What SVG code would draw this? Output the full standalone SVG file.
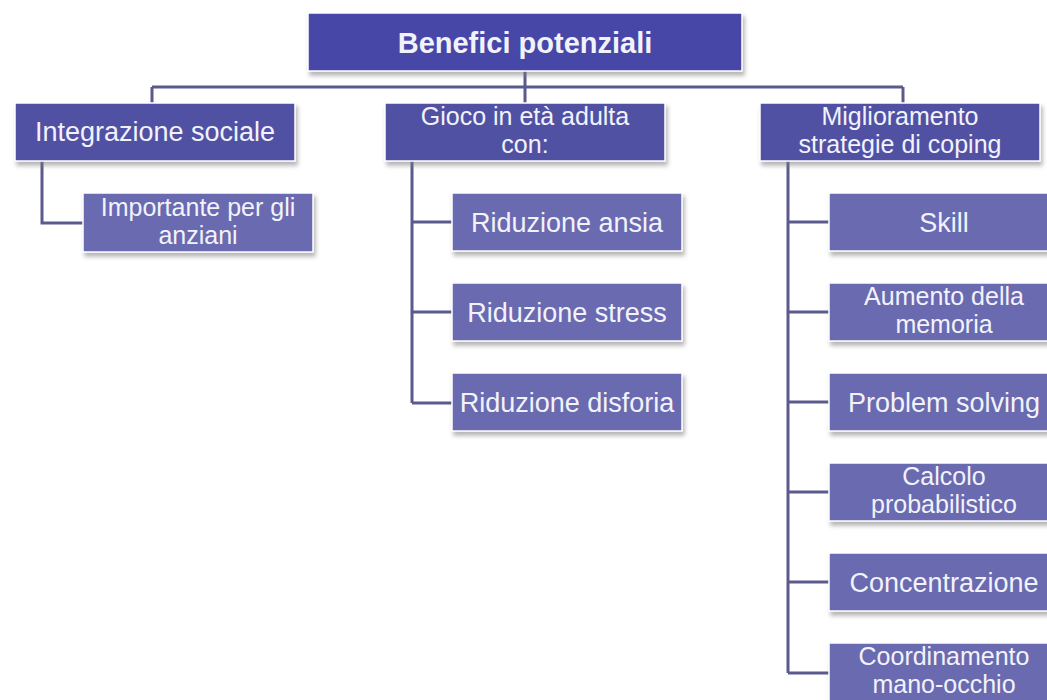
<svg xmlns="http://www.w3.org/2000/svg" width="1047" height="700" viewBox="0 0 1047 700">
<style>
.box{stroke:#ffffff;stroke-width:1.5;filter:url(#sh)}
.b0{fill:#4646a7}
.b1{fill:#5151a4}
.b2{fill:#6a6ab0}
.t{font-family:"Liberation Sans",Arial,sans-serif;font-size:27px;fill:#f2f2fb;text-anchor:middle}
.t2{font-family:"Liberation Sans",Arial,sans-serif;font-size:25px;fill:#f2f2fb;text-anchor:middle}
.tb{font-family:"Liberation Sans",Arial,sans-serif;font-size:29px;font-weight:bold;fill:#f2f2fb;text-anchor:middle}
.c{fill:none;stroke:#5a5a8e;stroke-width:3}
</style>
<defs>
<filter id="sh" x="-10%" y="-20%" width="125%" height="160%">
<feDropShadow dx="2" dy="4" stdDeviation="2" flood-color="#7a7a7a" flood-opacity="0.55"/>
</filter>
</defs>
<rect width="1047" height="700" fill="#ffffff"/>
<g id="connectors">
<path class="c" d="M525,71 V87 M152,87 H903 M152,87 V103 M525,87 V103 M903,87 V103"/>
<path class="c" d="M42,161 V223 H83"/>
<path class="c" d="M412,161 V403 M412,222 H452 M412,312 H452 M412,403 H452"/>
<path class="c" d="M788,161 V673 M788,222 H829 M788,312 H829 M788,402 H829 M788,492 H829 M788,582 H829 M788,673 H829"/>
</g>
<g id="n0"><rect class="box b0" x="308" y="13" width="434" height="58"/><text class="tb" x="525" y="53">Benefici potenziali</text></g>
<g id="n1"><rect class="box b1" x="15" y="103" width="280" height="58"/><text class="t" x="155" y="141">Integrazione sociale</text></g>
<g id="n2"><rect class="box b1" x="385" y="103" width="280" height="58"/><text class="t2" x="525" y="125">Gioco in età adulta</text><text class="t2" x="525" y="153">con:</text></g>
<g id="n3"><rect class="box b1" x="760" y="103" width="280" height="58"/><text class="t2" x="900" y="125">Miglioramento</text><text class="t2" x="900" y="153">strategie di coping</text></g>
<g id="n4"><rect class="box b2" x="83" y="193" width="230" height="59"/><text class="t2" x="198" y="216">Importante per gli</text><text class="t2" x="198" y="244">anziani</text></g>
<g id="n5"><rect class="box b2" x="452" y="193" width="230" height="58"/><text class="t" x="567" y="232">Riduzione ansia</text></g>
<g id="n6"><rect class="box b2" x="452" y="283" width="230" height="58"/><text class="t" x="567" y="322">Riduzione stress</text></g>
<g id="n7"><rect class="box b2" x="452" y="373" width="230" height="58"/><text class="t" x="567" y="412">Riduzione disforia</text></g>
<g id="n8"><rect class="box b2" x="829" y="193" width="230" height="58"/><text class="t" x="944" y="232">Skill</text></g>
<g id="n9"><rect class="box b2" x="829" y="283" width="230" height="58"/><text class="t2" x="944" y="305">Aumento della</text><text class="t2" x="944" y="333">memoria</text></g>
<g id="n10"><rect class="box b2" x="829" y="373" width="230" height="58"/><text class="t" x="944" y="412">Problem solving</text></g>
<g id="n11"><rect class="box b2" x="829" y="463" width="230" height="58"/><text class="t2" x="944" y="485">Calcolo</text><text class="t2" x="944" y="513">probabilistico</text></g>
<g id="n12"><rect class="box b2" x="829" y="553" width="230" height="58"/><text class="t" x="944" y="592">Concentrazione</text></g>
<g id="n13"><rect class="box b2" x="829" y="643" width="230" height="58"/><text class="t2" x="944" y="665">Coordinamento</text><text class="t2" x="944" y="693">mano-occhio</text></g>
</svg>
